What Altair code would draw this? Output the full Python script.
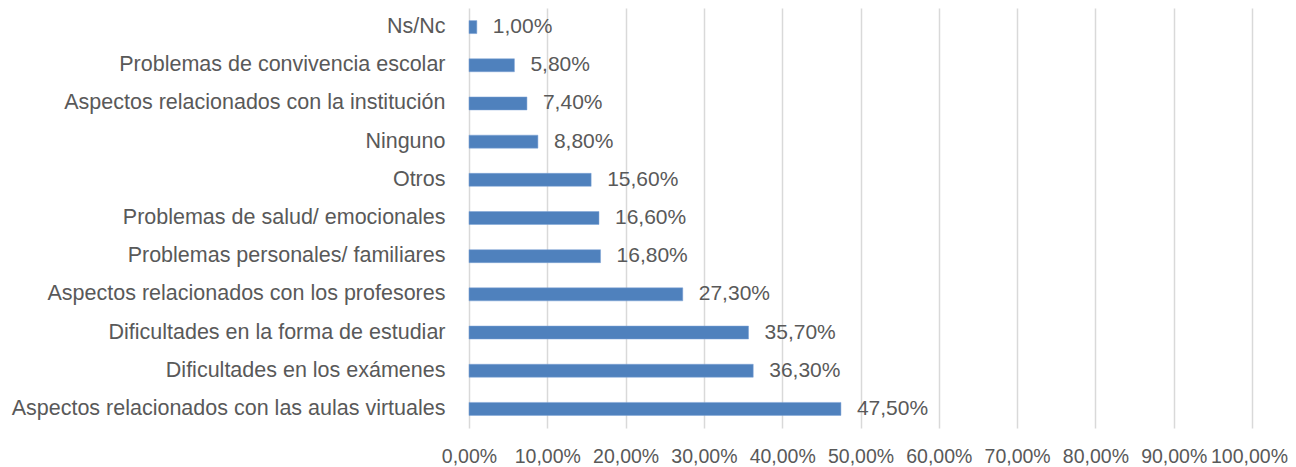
import altair as alt
import pandas as pd

categories = [
    "Ns/Nc",
    "Problemas de convivencia escolar",
    "Aspectos relacionados con la institución",
    "Ninguno",
    "Otros",
    "Problemas de salud/ emocionales",
    "Problemas personales/ familiares",
    "Aspectos relacionados con los profesores",
    "Dificultades en la forma de estudiar",
    "Dificultades en los exámenes",
    "Aspectos relacionados con las aulas virtuales",
]
values = [1.0, 5.8, 7.4, 8.8, 15.6, 16.6, 16.8, 27.3, 35.7, 36.3, 47.5]
tick_values = [0, 10, 20, 30, 40, 50, 60, 70, 80, 90, 100]

df = pd.DataFrame({"cat": categories, "val": values})

FONT = "Liberation Sans"
GRAY = "#595959"

base = alt.Chart(df).transform_calculate(
    lbl="replace(format(datum.val, '.2f'), '.', ',') + '%'"
)

y = alt.Y("cat:N", sort=categories, title=None,
          scale=alt.Scale(paddingInner=0.66, paddingOuter=0.33),
          axis=alt.Axis(labelFont=FONT, labelFontSize=21.5, labelColor=GRAY,
                        labelPadding=24, ticks=False, domain=False, labelLimit=600))

bars = base.mark_bar(color="#4F81BD", stroke="#7da3d6", strokeWidth=0.5).encode(
    x=alt.X("val:Q", title=None,
            scale=alt.Scale(domain=[0, 100], nice=False),
            axis=alt.Axis(values=tick_values, labelExpr="replace(format(datum.value, '.2f'), '.', ',') + '%'",
                          labelFont=FONT, labelFontSize=19.5, labelColor=GRAY,
                          labelPadding=19, ticks=False, domain=False,
                          grid=True, gridColor="#d9d9d9", gridWidth=1.5,
                          labelOffset=alt.ExprRef(expr="datum.value == 100 ? -3 : 0"),
                          labelOverlap=False, labelFlush=False)),
    y=y,
)

labels = base.mark_text(align="left", baseline="middle", dx=16, font=FONT,
                        fontSize=21, color=GRAY).encode(
    x="val:Q", y=alt.Y("cat:N", sort=categories), text="lbl:N"
)

chart = (bars + labels).properties(
    width=783, height=420,
    autosize=alt.AutoSizeParams(type="none"),
    padding={"left": 461, "top": 0, "right": 36, "bottom": 38},
).configure_view(stroke=None)

chart.save("out.html", embed_options={"renderer": "svg", "actions": False})
